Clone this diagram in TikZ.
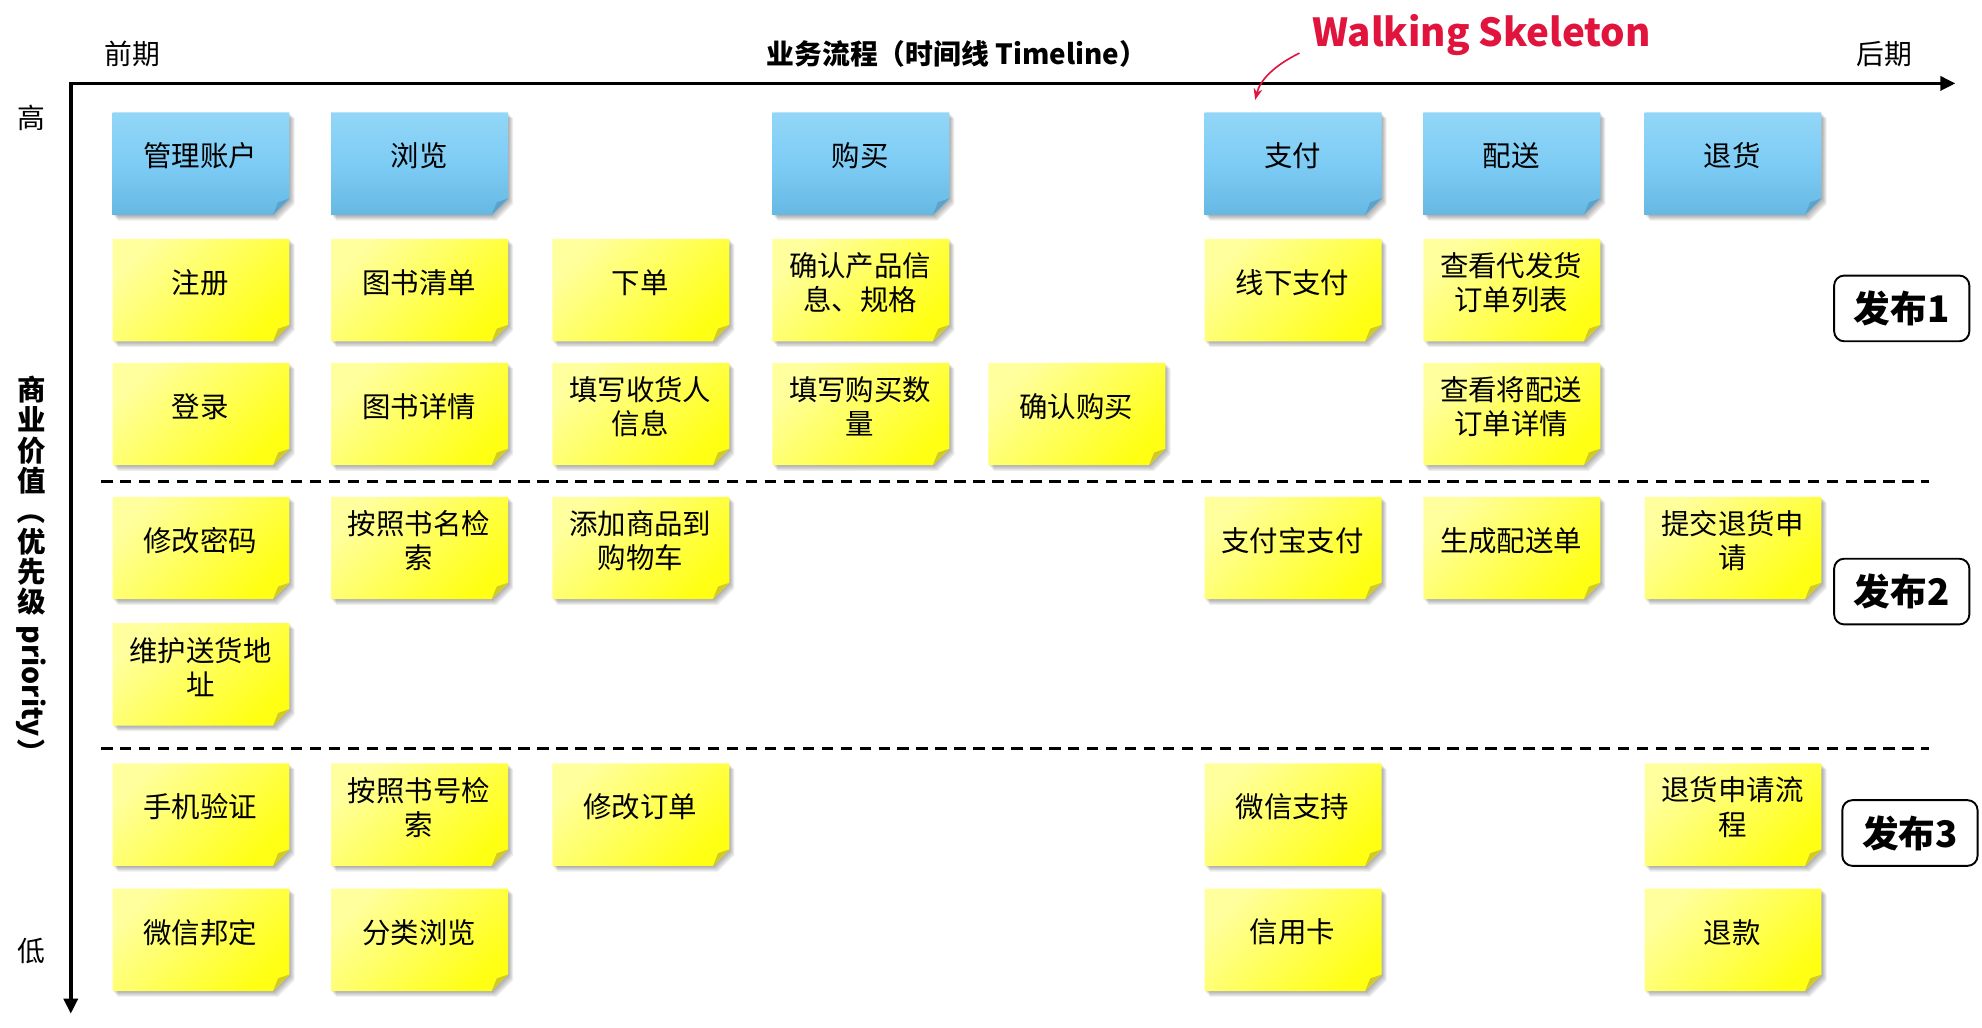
\documentclass[tikz,border=0pt]{standalone}
\usepackage{fontspec}
\usepackage{graphicx}
\setmainfont{Noto Sans CJK SC}
\usetikzlibrary{arrows.meta}
\definecolor{blueTop}{HTML}{93D6F7}
\definecolor{blueMid}{HTML}{7DCCF5}
\definecolor{blueBot}{HTML}{66B8E2}
\definecolor{blueFold}{HTML}{5AA3CC}
\definecolor{yelA}{HTML}{FFFF9E}
\definecolor{yelB}{HTML}{FFFF14}
\definecolor{yelFold}{HTML}{D2CA24}
\definecolor{wsred}{HTML}{E0143C}
\tikzset{
  blue body/.style={top color=blueTop, bottom color=blueBot, middle color=blueMid},
  blue fold/.style={fill=blueFold},
  yellow body/.style={shading=axis, top color=yelA, bottom color=yelB, shading angle=45},
  yellow fold/.style={fill=yelFold},
  notetext/.style={font=\fontsize{22.5}{27}\selectfont, align=center, inner sep=0pt},
  relbox/.style={draw, line width=1.5pt, rounded corners=8pt, minimum width=107pt, minimum height=52pt, inner sep=0pt, font=\bfseries\fontsize{29}{30}\selectfont},
  axisline/.style={line width=3pt, {Triangle[length=12pt,width=11pt]}-{Triangle[length=12pt,width=11pt]}},
  dashline/.style={line width=2pt, dash pattern=on 9pt off 6pt},
  lbl/.style={font=\fontsize{22}{24}\selectfont, inner sep=0pt},
}
\newcommand\sticky[5]{%
  \begin{scope}[shift={(#2,#3)}]
    \foreach \s in {1,2,3,4,5}{
      \fill[black, opacity=0.07] (\s*0.8,\s*0.9) -- ++(140,0) -- ++(0,68) -- ++(-13,13) -- ++(-127,0) -- cycle;
    }
    \shade[#4 body] (0,0) -- (140,0) -- (140,68) -- (127,81) -- (0,81) -- cycle;
    \fill[#4 fold] (127,81) -- (140,68) -- (131,71) -- cycle;
  \end{scope}
  \node[notetext] (#1) at (#2+69.5,#3+34.5) {#5};
}
\newcommand\vrot[1]{\rotatebox[origin=c]{-90}{#1}}
\begin{document}
\begin{tikzpicture}[x=1pt,y=-1pt]
\path[use as bounding box] (0,0) rectangle (1568,813);

% axes
\coordinate (O) at (56,66);
\coordinate (XE) at (1547,66);
\coordinate (YE) at (56,802);
\draw[axisline] (XE) -- (O) -- (YE);

% axis labels
\node[lbl] (early) at (105,43) {前期};
\node[lbl] (late) at (1491,43) {后期};
\node[lbl, font=\bfseries\fontsize{22}{24}\selectfont] (hdr) at (757,43) {业务流程（时间线 Timeline）};
\node[lbl] (high) at (25,93) {高};
\node[lbl] (low) at (25,752) {低};
\node[font=\bfseries\fontsize{22.5}{24}\selectfont, align=center, inner sep=0pt] (vl) at (25,452)
  {商\\业\\价\\值\\\vrot{（}\\优\\先\\级\\\vrot{\kern7pt priority}\\\vrot{）}};

% walking skeleton
\node[text=wsred, font=\bfseries\fontsize{30.5}{33}\selectfont, inner sep=0pt] (ws) at (1172,28) {Walking Skeleton};
\coordinate (wsA) at (1028,42);
\coordinate (wsB) at (993,79);
\draw[wsred, line width=1.3pt, -{Stealth[length=9pt,width=7pt]}] (wsA) .. controls (1008,52) and (997,63) .. (wsB);

% release separators
\coordinate (d1a) at (80,381);
\coordinate (d1b) at (1526,381);
\coordinate (d2a) at (80,592);
\coordinate (d2b) at (1526,592);
\draw[dashline] (d1a) -- (d1b);
\draw[dashline] (d2a) -- (d2b);

% backbone
\sticky{b1}{89}{89}{blue}{管理账户}
\sticky{b2}{262}{89}{blue}{浏览}
\sticky{b4}{611}{89}{blue}{购买}
\sticky{b6}{953}{89}{blue}{支付}
\sticky{b7}{1126}{89}{blue}{配送}
\sticky{b8}{1301}{89}{blue}{退货}

% row 1
\sticky{r11}{89}{189}{yellow}{注册}
\sticky{r12}{262}{189}{yellow}{图书清单}
\sticky{r13}{437}{189}{yellow}{下单}
\sticky{r14}{611}{189}{yellow}{确认产品信\\息、规格}
\sticky{r16}{953}{189}{yellow}{线下支付}
\sticky{r17}{1126}{189}{yellow}{查看代发货\\订单列表}

% row 2
\sticky{r21}{89}{287}{yellow}{登录}
\sticky{r22}{262}{287}{yellow}{图书详情}
\sticky{r23}{437}{287}{yellow}{填写收货人\\信息}
\sticky{r24}{611}{287}{yellow}{填写购买数\\量}
\sticky{r25}{782}{287}{yellow}{确认购买}
\sticky{r27}{1126}{287}{yellow}{查看将配送\\订单详情}

% row 3
\sticky{r31}{89}{393}{yellow}{修改密码}
\sticky{r32}{262}{393}{yellow}{按照书名检\\索}
\sticky{r33}{437}{393}{yellow}{添加商品到\\购物车}
\sticky{r36}{953}{393}{yellow}{支付宝支付}
\sticky{r37}{1126}{393}{yellow}{生成配送单}
\sticky{r38}{1301}{393}{yellow}{提交退货申\\请}

% row 4
\sticky{r41}{89}{493}{yellow}{维护送货地\\址}

% row 5
\sticky{r51}{89}{604}{yellow}{手机验证}
\sticky{r52}{262}{604}{yellow}{按照书号检\\索}
\sticky{r53}{437}{604}{yellow}{修改订单}
\sticky{r56}{953}{604}{yellow}{微信支持}
\sticky{r58}{1301}{604}{yellow}{退货申请流\\程}

% row 6
\sticky{r61}{89}{703}{yellow}{微信邦定}
\sticky{r62}{262}{703}{yellow}{分类浏览}
\sticky{r66}{953}{703}{yellow}{信用卡}
\sticky{r68}{1301}{703}{yellow}{退款}

% releases
\node[relbox] (rel1) at (1504.5,244) {发布1};
\node[relbox] (rel2) at (1504.5,468) {发布2};
\node[relbox] (rel3) at (1511,659) {发布3};
\end{tikzpicture}
\end{document}
